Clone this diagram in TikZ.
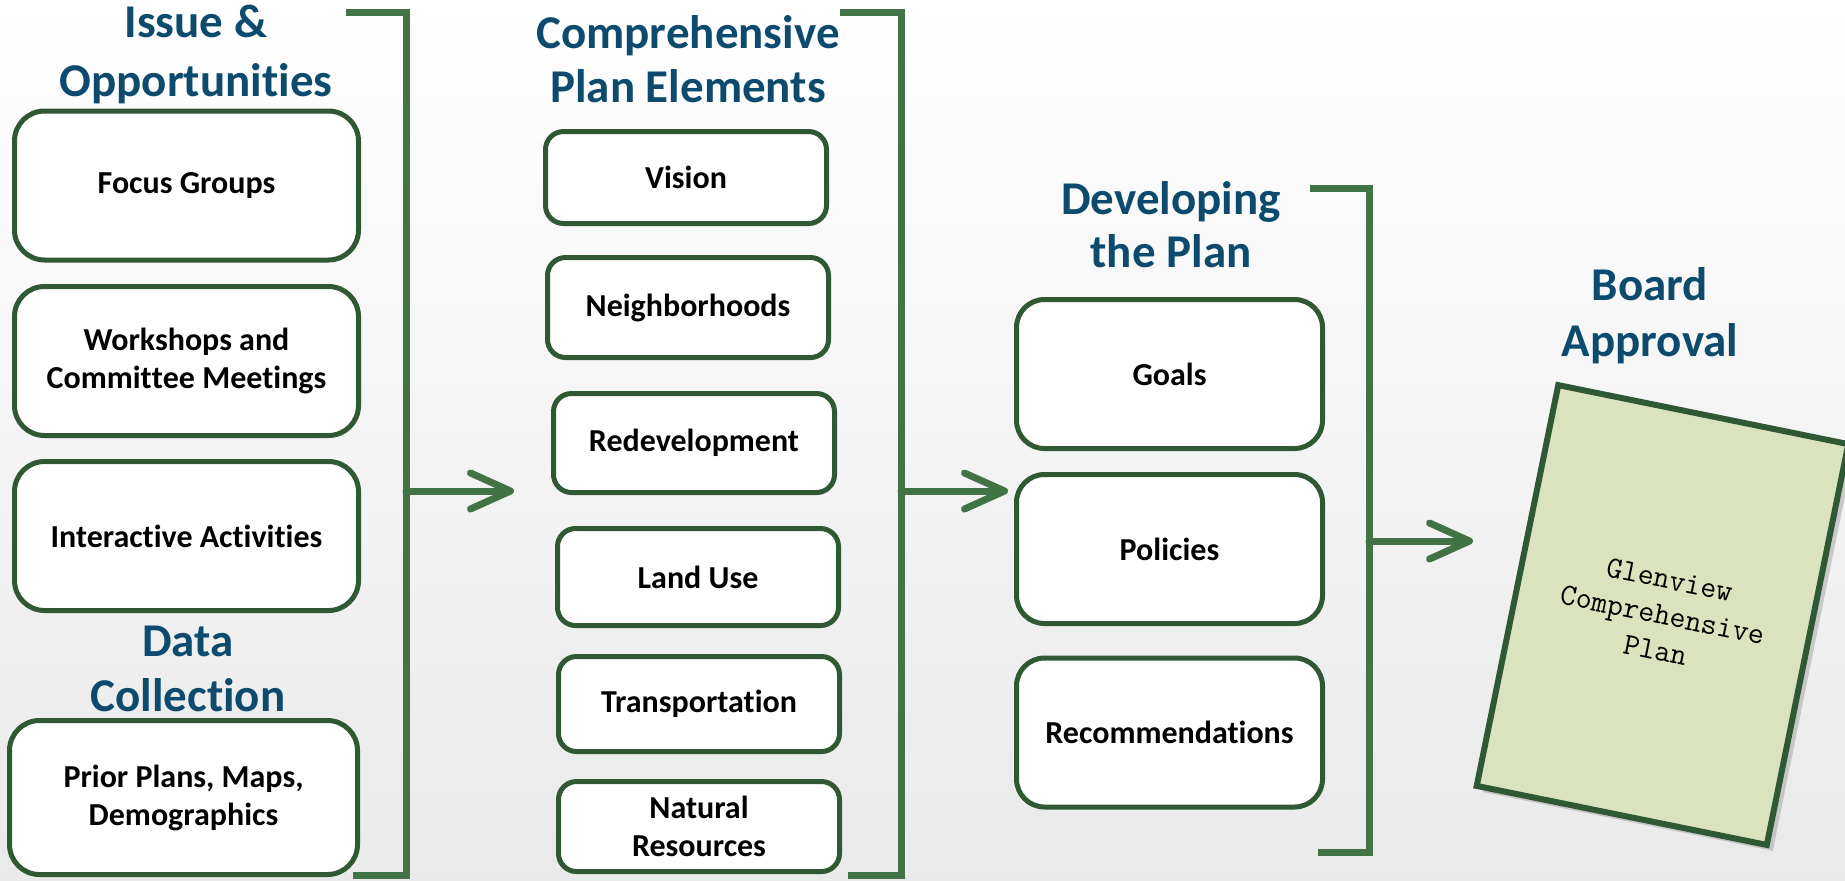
\documentclass[tikz,border=0pt]{standalone}
\usepackage{fontspec}
\setmainfont{Carlito}[Ligatures={NoCommon,NoRare,NoContextual}, Contextuals=NoAlternate]
\usetikzlibrary{arrows.meta,shadows}
\definecolor{titleblue}{RGB}{12,75,110}
\definecolor{boxgreen}{RGB}{47,88,52}
\definecolor{brgreen}{RGB}{65,115,68}
\definecolor{docfill}{RGB}{219,227,190}
\newcommand{\nolig}{\kern0pt }
\begin{document}
\begin{tikzpicture}[x=0.5pt,y=-0.5pt,
  box/.style={draw=boxgreen, line width=2.5pt, fill=white, align=center,
    font=\fontsize{16}{19}\selectfont\bfseries, inner sep=0pt},
  colone/.style={box, rounded corners=15pt, minimum width=172pt, minimum height=74.5pt},
  coltwo/.style={box, rounded corners=9pt, minimum width=140.5pt},
  colthree/.style={box, rounded corners=14pt, minimum width=153pt, minimum height=74.5pt},
  title/.style={text=titleblue, align=center, inner sep=0pt},
  tfont/.style={font=\fontsize{23.5}{#1}\selectfont\bfseries},
  bracket/.style={draw=brgreen, line width=3.5pt, miter limit=10},
  flow/.style={draw=brgreen, line width=3.5pt, line cap=round, line join=round,
    -{Straight Barb[length=20pt, width=18pt, line cap=round, line join=round]}},
  doc/.style={draw=boxgreen, line width=3pt, fill=docfill,
    minimum width=148pt, minimum height=204.5pt, inner sep=0pt, align=center,
    font=\fontsize{15.5}{18}\selectfont\ttfamily,
    drop shadow={shadow xshift=3pt, shadow yshift=-3pt, opacity=0.35, fill=gray}}
]
\shade[top color=white, bottom color=gray!17] (0,0) rectangle (1845,880);
\useasboundingbox (0,0) rectangle (1845,880);

% ---- column 1
\node[title, tfont=29.5] (t1) at (196,54) {Issue \&\\Opportu\nolig nit\nolig ies};
\node[colone] (fg) at (186.5,185.5) {Focus Groups};
\node[colone] (ws) at (186.5,361) {Workshops and\\Commit\nolig t\nolig ee Meetings};
\node[colone] (ia) at (186.5,536) {Interact\nolig ive Act\nolig ivit\nolig ies};
\node[title, tfont=27.5] (t1b) at (188,669) {Data\\Collect\nolig ion};
\node[colone, minimum width=174pt, minimum height=77pt] (pp) at (183.5,797.5) {Prior Plans, Maps,\\Demographics};

% ---- column 2
\node[title, tfont=27] (t2) at (688,59) {Comprehensive\\Plan Elements};
\node[coltwo, minimum height=46pt] (vi) at (686,177.5) {Vision};
\node[coltwo, minimum height=50pt] (nb) at (688,307.5) {Neighborhoods};
\node[coltwo, minimum height=49.5pt] (rd) at (694,443) {Redevelopment};
\node[coltwo, minimum height=48.5pt] (lu) at (698,577) {Land Use};
\node[coltwo, minimum height=47.5pt] (tr) at (699,704) {Transportat\nolig ion};
\node[coltwo, minimum height=45pt] (nr) at (699,826.5) {Natural\\Resources};

% ---- column 3
\node[title, tfont=26.5] (t3) at (1171,225) {Developing\\the Plan};
\node[colthree] (go) at (1169.5,374) {Goals};
\node[colthree] (po) at (1169.5,549) {Policies};
\node[colthree] (re) at (1169.5,732.5) {Recommendat\nolig ions};

% ---- column 4
\node[title, tfont=28] (t4) at (1650,316) {Board\\Approval};
\node[doc, rotate=-11.5] (plan) at (1662.5,615) {Glenview\\Comprehensive\\Plan};

% ---- brackets
\coordinate (b1a) at (346,12);  \coordinate (b1b) at (406,12);
\coordinate (b1c) at (406,875); \coordinate (b1d) at (353,875);
\coordinate (b2a) at (840,12);  \coordinate (b2b) at (901,12);
\coordinate (b2c) at (901,875); \coordinate (b2d) at (848,875);
\coordinate (b3a) at (1310,188); \coordinate (b3b) at (1369,188);
\coordinate (b3c) at (1369,852); \coordinate (b3d) at (1318,852);
\draw[bracket] (b1a) -- (b1b) -- (b1c) -- (b1d);
\draw[bracket] (b2a) -- (b2b) -- (b2c) -- (b2d);
\draw[bracket] (b3a) -- (b3b) -- (b3c) -- (b3d);

% ---- arrows
\coordinate (a1s) at (406,491);  \coordinate (a1e) at (514,491);
\coordinate (a2s) at (901,491);  \coordinate (a2e) at (1008,491);
\coordinate (a3s) at (1369,541); \coordinate (a3e) at (1473,541);
\draw[flow] (a1s) -- (a1e);
\draw[flow] (a2s) -- (a2e);
\draw[flow] (a3s) -- (a3e);
\end{tikzpicture}
\end{document}
